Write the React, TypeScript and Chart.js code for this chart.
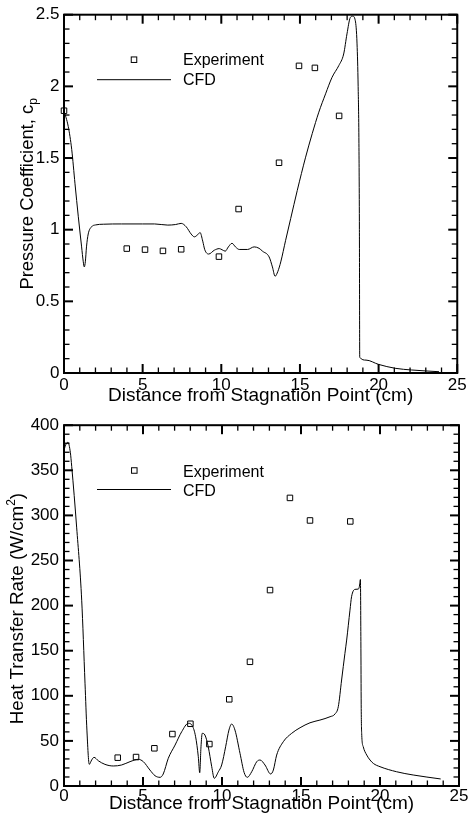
import React, { useEffect, useRef } from "react";
import { Chart, registerables } from "chart.js";

Chart.register(...registerables);

const FONT = '"Liberation Sans", Arial, Helvetica, sans-serif';

// ---------- shared x axis ----------
const xTickValues = [0, 5, 10, 15, 20, 25];
const xMinorStep = 1;

// ---------- Pressure coefficient (top) ----------
const cpYTickValues = [0, 0.5, 1, 1.5, 2, 2.5];
const cpYMinorStep = 0.1;

const cpExpX = [0, 3.99, 5.15, 6.29, 7.45, 9.85, 11.1, 13.67, 14.94, 15.95, 17.49];
const cpExpY = [1.83, 0.868, 0.861, 0.852, 0.863, 0.812, 1.144, 1.467, 2.143, 2.129, 1.794];

const cpCfdX = [
  0, 0.27, 0.49, 0.7, 0.91, 1.12, 1.22, 1.29, 1.36, 1.43, 1.54, 1.75, 2.0, 2.5, 3.65, 5.0,
  5.76, 6.6, 7.1, 7.45, 7.77, 8.08, 8.29, 8.5, 8.65, 8.82, 8.95, 9.2, 9.56, 9.87, 10.05,
  10.25, 10.45, 10.68, 10.9, 11.14, 11.67, 12.09, 12.4, 12.62, 13.04, 13.25, 13.42, 13.6,
  13.78, 14.09, 14.41, 14.83, 15.36, 15.78, 16.2, 16.63, 17.04, 17.47, 17.78, 17.99, 18.2,
  18.35, 18.52, 18.63, 18.7, 18.75, 18.78, 18.8, 19.2, 20.0, 21.05, 22.1, 23.84,
];
const cpCfdY = [
  1.83, 1.72, 1.56, 1.32, 1.09, 0.88, 0.78, 0.74, 0.78, 0.88, 0.97, 1.02, 1.033, 1.038, 1.04, 1.04,
  1.04, 1.032, 1.036, 1.044, 1.02, 0.97, 0.95, 0.965, 0.98, 0.92, 0.86, 0.83, 0.857, 0.868, 0.86,
  0.85, 0.88, 0.905, 0.88, 0.862, 0.862, 0.88, 0.87, 0.85, 0.81, 0.74, 0.675, 0.71,
  0.775, 0.926, 1.077, 1.274, 1.506, 1.67, 1.82, 1.948, 2.063, 2.145, 2.226, 2.366, 2.48,
  2.49, 2.458, 2.296, 2.0, 1.6, 1.0, 0.11, 0.09, 0.06, 0.033, 0.021, 0.009,
];

// ---------- Heat transfer rate (bottom) ----------
const qYTickValues = [0, 50, 100, 150, 200, 250, 300, 350, 400];
const qYMinorStep = 10;

const qExpX = [3.4, 4.56, 5.72, 6.86, 8.0, 9.2, 10.46, 11.77, 13.04, 14.3, 15.57, 18.12];
const qExpY = [31.4, 32.1, 41.8, 57.6, 69.0, 46.5, 96.1, 137.7, 217.2, 319.4, 294.4, 293.3];

const qCfdX = [
  0, 0.1, 0.25, 0.4, 0.49, 0.8, 1.12, 1.33, 1.45, 1.6, 1.75, 1.9, 2.17, 2.59, 3.12, 3.65,
  4.18, 4.7, 5.02, 5.44, 5.76, 6.08, 6.28, 6.6, 7.03, 7.45, 7.87, 8.12, 8.33, 8.5, 8.59,
  8.67, 8.75, 8.92, 9.13, 9.35, 9.51, 9.77, 9.98, 10.23, 10.44, 10.61, 10.82, 11.14, 11.4,
  11.6, 11.88, 12.2, 12.41, 12.72, 13.08, 13.25, 13.46, 13.88, 14.41, 14.94, 15.57, 16.2,
  16.84, 17.15, 17.36, 17.57, 17.78, 17.89, 18.1, 18.2, 18.42, 18.63, 18.69, 18.76, 18.79,
  18.81, 18.84, 18.94, 19.16, 19.37, 19.58, 20.0, 21.05, 22.1, 23.84,
];
const qCfdY = [
  372, 378, 381, 370, 354, 287, 206, 114, 62, 24, 28.8, 31.8, 28, 24, 22.2, 23.3,
  27, 29.6, 27, 17.7, 11.4, 9.6, 13.3, 30.7, 45.4, 60.2, 69.5, 66.8, 54.6, 32.5, 14.7,
  43.5, 58.4, 56.5, 43.5, 21.4, 8.5, 15.8, 23.3, 43.5, 62, 68.7, 62, 36.2, 15,
  9.6, 15.8, 27, 28.8, 23.3, 13.3, 17.7, 34.3, 49.1, 58.4, 64.6, 70.1, 73.1,
  76.8, 79.8, 87.9, 117.5, 147, 161.8, 195, 209.8, 218, 218.3, 220.8, 229, 160,
  90, 58.4, 43.5, 34.3, 28.8, 25, 21.4, 15.8, 12.2, 7.8,
];

const toPoints = (xs: number[], ys: number[]) => xs.map((x, i) => ({ x, y: ys[i] }));

type Spec = {
  expX: number[];
  expY: number[];
  cfdX: number[];
  cfdY: number[];
  yMax: number;
  yTicks: number[];
  yMinor: number;
  padding: { top: number; right: number; bottom: number; left: number };
  axisHeight: number;
  xTickPad: number;
  yTickPad: number;
  xTitlePad: number;
  legend: any;
  yTitle: any;
};

function stepValues(min: number, max: number, step: number): number[] {
  const n = Math.round((max - min) / step);
  const out: number[] = [];
  for (let i = 0; i <= n; i++) out.push(min + i * step);
  return out;
}

function hasValue(list: number[], v: number): boolean {
  for (let i = 0; i < list.length; i++) if (Math.abs(list[i] - v) < 1e-6) return true;
  return false;
}

function pixelOf(scale: any, v: number, lo: number, hi: number, horizontal: boolean): number {
  let p = Number(scale.getPixelForValue(v));
  if (!isFinite(p)) {
    const t = (v - scale.min) / (scale.max - scale.min);
    p = horizontal ? lo + t * (hi - lo) : hi - t * (hi - lo);
  }
  return p;
}

function makePlugin(s: Spec) {
  return {
    id: "frameDecor",
    afterDraw(c: any) {
      const ctx = c.ctx;
      const xs = c.scales["x"];
      const ys = c.scales["y"];
      const L = c.chartArea.left;
      const R = c.chartArea.right;
      const T = c.chartArea.top;
      const B = c.chartArea.bottom;

      // ---- inward ticks on all four sides (filled rects) + frame ----
      ctx.save();
      ctx.fillStyle = "#000000";
      const xv = stepValues(0, 25, xMinorStep);
      for (let i = 0; i < xv.length; i++) {
        const v = xv[i];
        const major = hasValue(xTickValues, v);
        const len = major ? 9 : 5.5;
        const w = major ? 2 : 1.3;
        const px = pixelOf(xs, v, L, R, true);
        ctx.fillRect(px - w / 2, B - len, w, len);
        ctx.fillRect(px - w / 2, T, w, len);
      }
      const yv = stepValues(0, s.yMax, s.yMinor);
      for (let i = 0; i < yv.length; i++) {
        const v = yv[i];
        const major = hasValue(s.yTicks, v);
        const len = major ? 9 : 5.5;
        const w = major ? 2 : 1.3;
        const py = pixelOf(ys, v, T, B, false);
        ctx.fillRect(L, py - w / 2, len, w);
        ctx.fillRect(R - len, py - w / 2, len, w);
      }
      ctx.strokeStyle = "#000000";
      ctx.lineWidth = 2;
      ctx.strokeRect(L, T, R - L, B - T);
      ctx.restore();

      // ---- legend inside plot ----
      const lg = s.legend;
      const exp = c.data.datasets[0];
      const cfd = c.data.datasets[1];
      ctx.save();
      const half = Math.SQRT1_2 * exp.pointRadius;
      ctx.strokeStyle = "#000000";
      ctx.lineWidth = exp.borderWidth;
      ctx.strokeRect(L + lg.markerX - half, T + lg.markerY - half, 2 * half, 2 * half);
      ctx.lineWidth = cfd.borderWidth;
      ctx.beginPath();
      ctx.moveTo(L + lg.lineX0, T + lg.lineY);
      ctx.lineTo(L + lg.lineX1, T + lg.lineY);
      ctx.stroke();
      ctx.fillStyle = "#000000";
      ctx.font = `${lg.fontSize}px ${FONT}`;
      ctx.textAlign = "left";
      ctx.textBaseline = "alphabetic";
      ctx.fillText(exp.label, L + lg.textX, T + lg.text1Y);
      ctx.fillText(cfd.label, L + lg.textX, T + lg.text2Y);

      // ---- rotated y title with sub/superscript ----
      const yt = s.yTitle;
      const segs = yt.segments as { text: string; size: number; shift: number }[];
      let total = 0;
      const widths: number[] = [];
      for (const sg of segs) {
        ctx.font = `${sg.size}px ${FONT}`;
        const w = ctx.measureText(sg.text).width;
        widths.push(w);
        total += w;
      }
      const cy = (T + B) / 2 + yt.dy;
      ctx.translate(yt.x, cy);
      ctx.rotate(-Math.PI / 2);
      let cx = -total / 2;
      segs.forEach((sg, i) => {
        ctx.font = `${sg.size}px ${FONT}`;
        ctx.fillText(sg.text, cx, sg.shift);
        cx += widths[i];
      });
      ctx.restore();
    },
  };
}

function buildConfig(s: Spec): any {
  const tickFont = { family: FONT, size: 17 };
  return {
    type: "scatter",
    data: {
      datasets: [
        {
          label: "Experiment",
          data: toPoints(s.expX, s.expY),
          pointStyle: "rect",
          pointRadius: 3.9,
          borderColor: "#000000",
          backgroundColor: "rgba(0,0,0,0)",
          borderWidth: 1,
          showLine: false,
          clip: false,
        },
        {
          label: "CFD",
          data: toPoints(s.cfdX, s.cfdY),
          showLine: true,
          borderColor: "#000000",
          backgroundColor: "#000000",
          borderWidth: 1,
          pointRadius: 0,
          cubicInterpolationMode: "monotone",
          fill: false,
          clip: 2,
        },
      ],
    },
    options: {
      responsive: false,
      animation: false,
      events: [],
      layout: { padding: s.padding },
      plugins: {
        legend: { display: false },
        tooltip: { enabled: false },
      },
      scales: {
        x: {
          type: "linear",
          min: 0,
          max: 25,
          afterBuildTicks: (sc: any) => {
            sc.ticks = xTickValues.map((v) => ({ value: v }));
          },
          afterFit: (sc: any) => {
            sc.height = s.axisHeight;
          },
          ticks: {
            font: tickFont,
            color: "#000000",
            padding: s.xTickPad,
            maxRotation: 0,
            autoSkip: false,
            callback: (v: number) => String(v),
          },
          grid: { display: false, drawTicks: false },
          border: { display: false },
          title: {
            display: true,
            text: "Distance from Stagnation Point (cm)",
            color: "#000000",
            font: { family: FONT, size: 19 },
            padding: { top: 0, bottom: s.xTitlePad },
          },
        },
        y: {
          type: "linear",
          min: 0,
          max: s.yMax,
          afterBuildTicks: (sc: any) => {
            sc.ticks = s.yTicks.map((v) => ({ value: v }));
          },
          afterFit: (sc: any) => {
            sc.width = 64;
          },
          ticks: {
            font: tickFont,
            color: "#000000",
            padding: s.yTickPad,
            autoSkip: false,
            callback: (v: number) => String(v),
          },
          grid: { display: false, drawTicks: false },
          border: { display: false },
        },
      },
    },
    plugins: [makePlugin(s)],
  };
}

function ChartCanvas({ spec, width, height, top }: { spec: Spec; width: number; height: number; top: number }) {
  const ref = useRef<HTMLCanvasElement>(null);
  useEffect(() => {
    if (!ref.current) return;
    const chart = new Chart(ref.current, buildConfig(spec));
    return () => chart.destroy();
  }, []);
  return (
    <canvas
      ref={ref}
      width={width}
      height={height}
      style={{ position: "absolute", left: 0, top, display: "block" }}
    />
  );
}

const topSpec: Spec = {
  expX: cpExpX,
  expY: cpExpY,
  cfdX: cpCfdX,
  cfdY: cpCfdY,
  yMax: 2.5,
  yTicks: cpYTickValues,
  yMinor: cpYMinorStep,
  padding: { top: 14, right: 10, bottom: 0, left: 0 },
  axisHeight: 37,
  xTickPad: 2.3,
  yTickPad: 4.5,
  xTitlePad: 2.6,
  legend: { markerX: 70, markerY: 45, lineX0: 33, lineX1: 107, lineY: 65, textX: 119, text1Y: 50.5, text2Y: 70.3, fontSize: 16 },
  yTitle: {
    x: 32.5,
    dy: 0,
    segments: [
      { text: "Pressure Coefficient, c", size: 18.4, shift: 0 },
      { text: "p", size: 12, shift: 4 },
    ],
  },
};

const bottomSpec: Spec = {
  expX: qExpX,
  expY: qExpY,
  cfdX: qCfdX,
  cfdY: qCfdY,
  yMax: 400,
  yTicks: qYTickValues,
  yMinor: qYMinorStep,
  padding: { top: 15, right: 10, bottom: 0, left: 0 },
  axisHeight: 37,
  xTickPad: 0,
  yTickPad: 5,
  xTitlePad: 8.1,
  legend: { markerX: 70.3, markerY: 45.3, lineX0: 33, lineX1: 107, lineY: 64.3, textX: 119, text1Y: 52, text2Y: 70.5, fontSize: 16 },
  yTitle: {
    x: 22.5,
    dy: 3,
    segments: [
      { text: "Heat Transfer Rate (W/cm", size: 18.8, shift: 0 },
      { text: "2", size: 12, shift: -8 },
      { text: ")", size: 18.8, shift: 0 },
    ],
  },
};

export default function App() {
  return (
    <div style={{ position: "absolute", left: 0, top: 0, width: 469, height: 823, background: "#ffffff" }}>
      <ChartCanvas spec={topSpec} width={469} height={410} top={0} />
      <ChartCanvas spec={bottomSpec} width={469} height={413} top={410} />
    </div>
  );
}
